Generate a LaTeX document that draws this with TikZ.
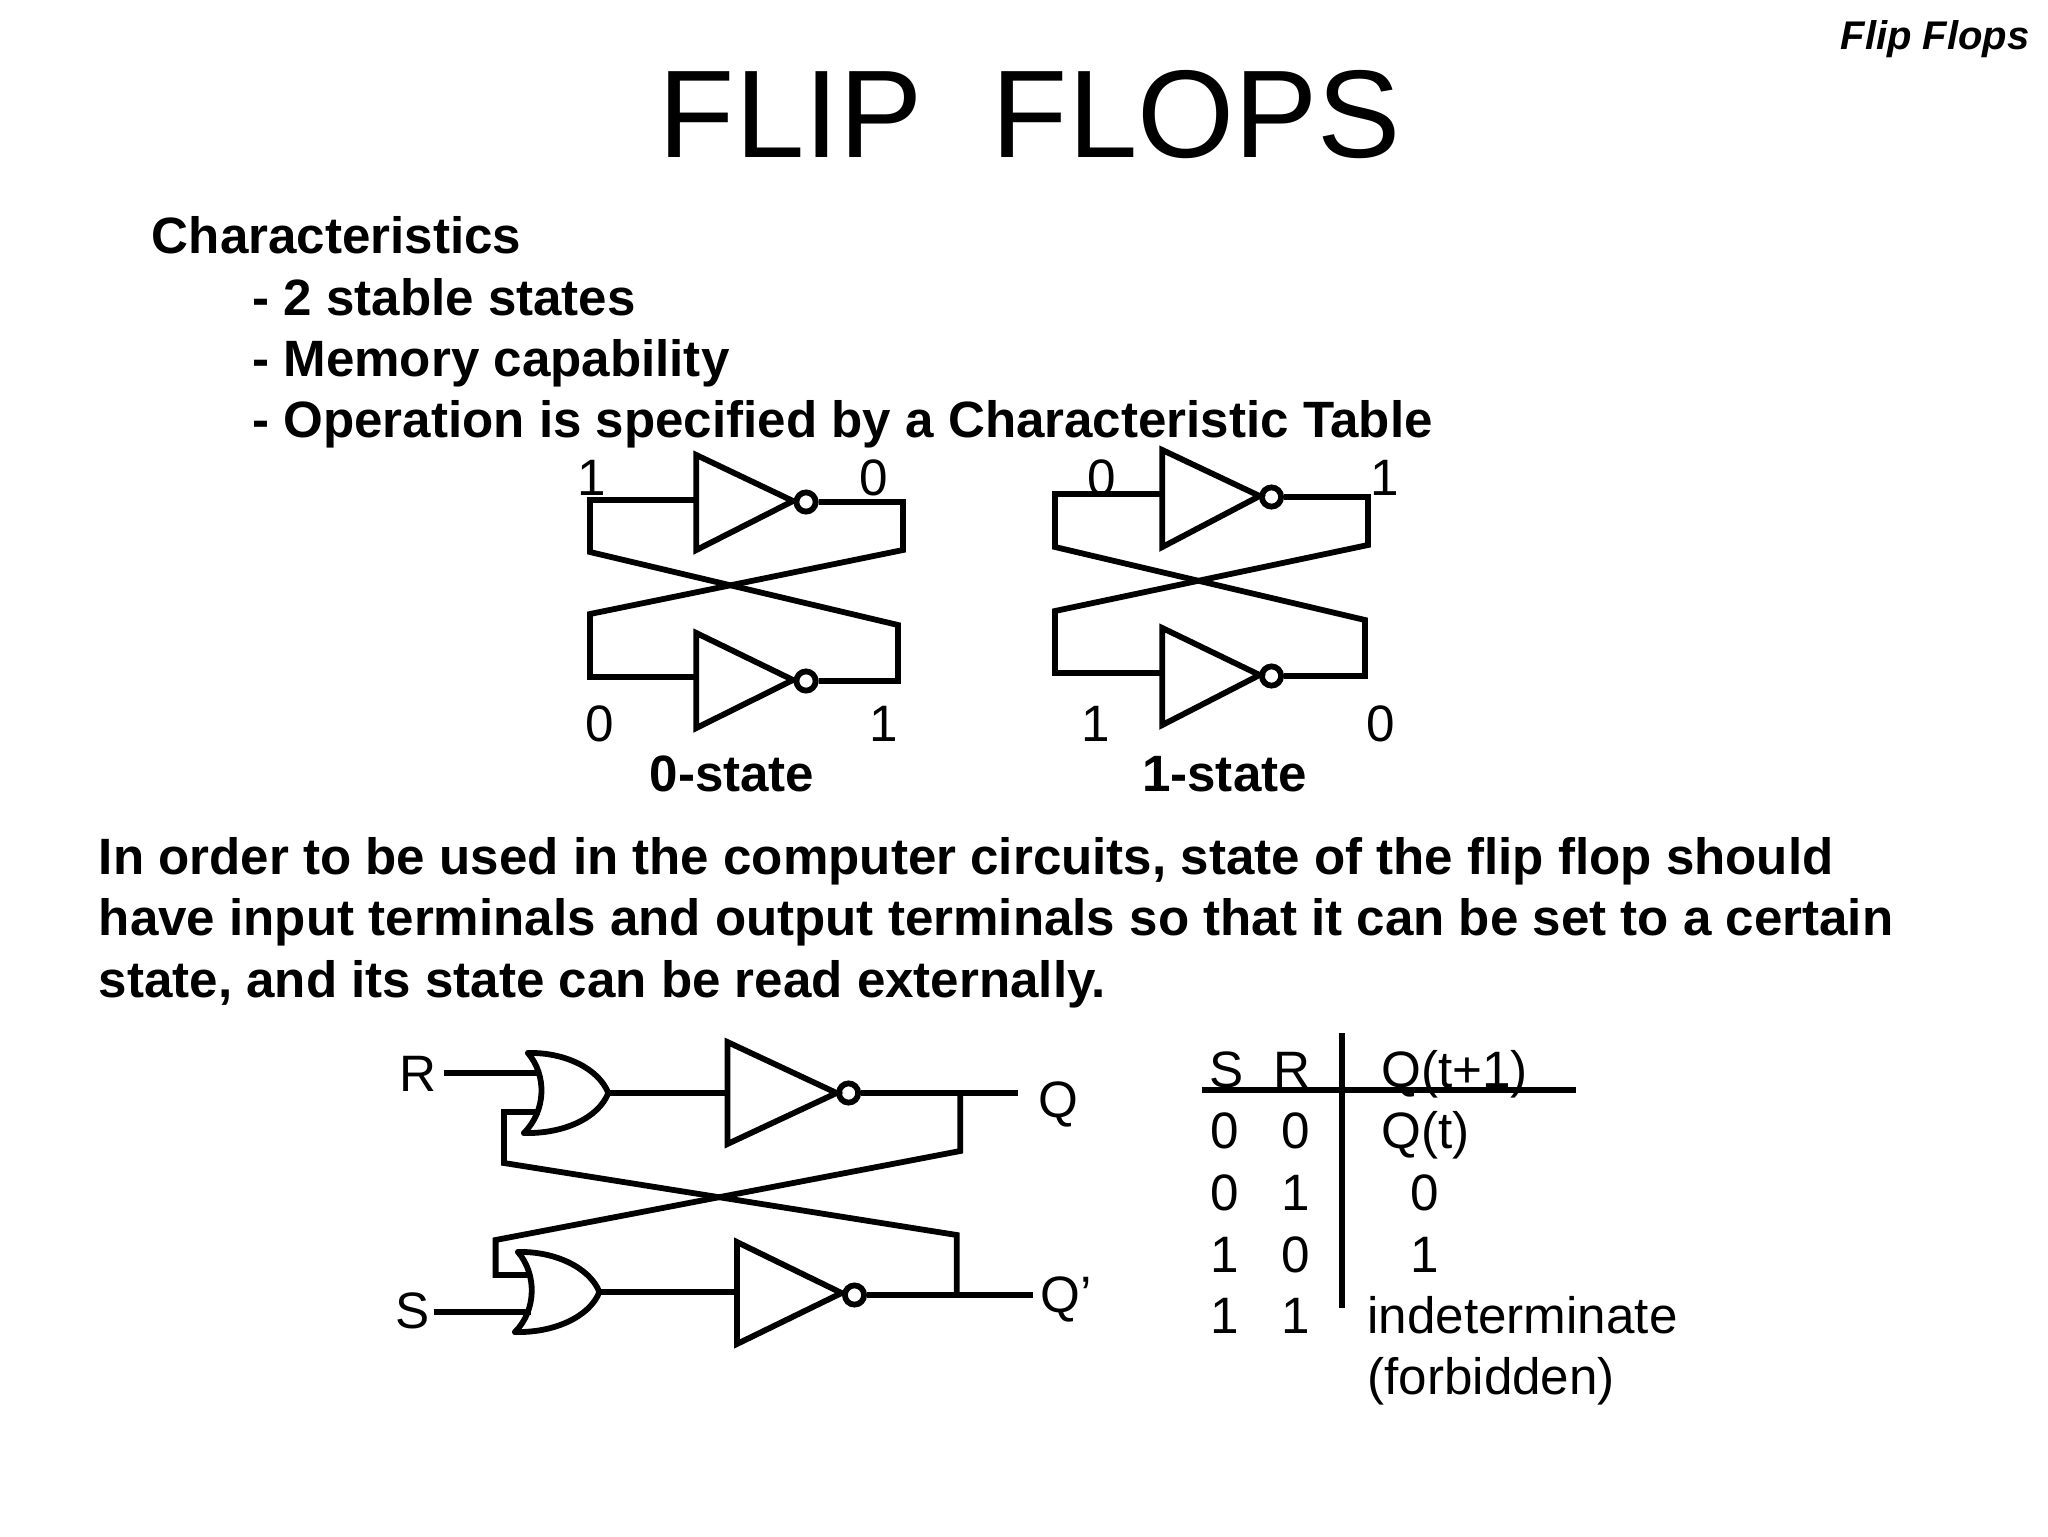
\documentclass[tikz,border=0pt]{standalone}
\usepackage{fontspec}
\setmainfont{Liberation Sans}
\tikzset{
  wire/.style={line width=2.9pt, line join=miter},
  bubble/.style={circle, draw, line width=2.9pt, inner sep=0pt, minimum size=9.6pt},
  body/.style={inner sep=0pt, font=\fontsize{25.55}{30}\selectfont\bfseries},
  lab/.style={inner sep=0pt, anchor=base, font=\fontsize{25.6}{30}\selectfont},
  labl/.style={lab, anchor=base west}
}
\begin{document}
\begin{tikzpicture}[x=0.5pt, y=-0.5pt]
\useasboundingbox (0,0) rectangle (2048,1536);
% headings
\node[inner sep=0pt, anchor=base, font=\fontsize{62.4}{70}\selectfont] (title) at (1030,157) {FLIP\ \ FLOPS};
\node[inner sep=0pt, anchor=base east, font=\fontsize{20}{24}\selectfont\bfseries\itshape] (corner) at (2030,50) {Flip Flops};
\node[body, anchor=base west] (chars) at (151.5,253) {Characteristics};
\node[body, anchor=base west] (chara) at (252,315) {- 2 stable states};
\node[body, anchor=base west] (charb) at (252,376) {- Memory capability};
\node[body, anchor=base west] (charc) at (252,437.5) {- Operation is specified by a Characteristic Table};
\node[body, anchor=base west] (para) at (98.5,874) {In order to be used in the computer circuits, state of the flip flop should};
\node[body, anchor=base west] (parb) at (98.5,935.5) {have input terminals and output terminals so that it can be set to a certain};
\node[body, anchor=base west] (parc) at (98.5,997) {state, and its state can be read externally.};

% 0-state
\draw[wire] (696.3,455) coordinate (at) -- (696.3,550) -- (793,501) -- cycle;
\draw[wire] (696.3,633) coordinate (bt) -- (696.3,728) -- (793,680) -- cycle;
\node[bubble] (ab) at (806,502) {};
\node[bubble] (bb) at (806,681) {};
\coordinate (ai) at (696.3,500);
\coordinate (bi) at (696.3,677);
\coordinate (c1) at (590,500);
\coordinate (c2) at (590,552);
\coordinate (c3) at (898,625);
\coordinate (c4) at (898,681);
\coordinate (c5) at (903,502);
\coordinate (c6) at (903,550);
\coordinate (c7) at (590,614);
\coordinate (c8) at (590,677);
\draw[wire] (ai) -- (c1) -- (c2) -- (c3) -- (c4) -- (bb);
\draw[wire] (ab) -- (c5) -- (c6) -- (c7) -- (c8) -- (bi);
\node[lab] (l1) at (591.6,495) {1};
\node[lab] (l2) at (873.5,495) {0};
\node[lab] (l3) at (599.5,741) {0};
\node[lab] (l4) at (883.4,741) {1};
\node[body, anchor=base] (zero) at (732,791) {0-state};

% 1-state
\draw[wire] (1162.3,450) coordinate (ct) -- (1162.3,547) -- (1259.6,496) -- cycle;
\draw[wire] (1162.3,628) coordinate (dt) -- (1162.3,725) -- (1259.6,675) -- cycle;
\node[bubble] (cb) at (1271.5,497) {};
\node[bubble] (db) at (1271.5,676) {};
\coordinate (ci) at (1162.3,494);
\coordinate (di) at (1162.3,673);
\coordinate (e1) at (1055,494);
\coordinate (e2) at (1055,547);
\coordinate (e3) at (1365,620);
\coordinate (e4) at (1365,676);
\coordinate (e5) at (1368,497);
\coordinate (e6) at (1368,545);
\coordinate (e7) at (1055,611);
\coordinate (e8) at (1055,673);
\draw[wire] (ci) -- (e1) -- (e2) -- (e3) -- (e4) -- (db);
\draw[wire] (cb) -- (e5) -- (e6) -- (e7) -- (e8) -- (di);
\node[lab] (l5) at (1101.8,495) {0};
\node[lab] (l6) at (1384.6,495) {1};
\node[lab] (l7) at (1095.8,741) {1};
\node[lab] (l8) at (1380.6,741) {0};
\node[body, anchor=base] (one) at (1224.5,791) {1-state};

% latch
\draw[wire, line cap=round] (528,1053) .. controls (546.6,1075) and (546.6,1110) .. (524,1133);
\draw[wire, line cap=round] (528,1053) .. controls (563.7,1052) and (598.4,1068) .. (608.3,1093) coordinate (ro) .. controls (598.4,1118) and (563.7,1134) .. (524,1133);
\draw[wire, line cap=round] (518,1252) .. controls (536.8,1274) and (536.8,1310) .. (515,1332);
\draw[wire, line cap=round] (518,1252) .. controls (553.7,1251) and (589.5,1267) .. (599.4,1292) coordinate (so) .. controls (589.5,1317) and (553.7,1333) .. (515,1332);
\draw[wire] (727.4,1042) -- (727.4,1144) -- (836.6,1093) -- cycle;
\draw[wire] (736.9,1242) -- (736.9,1344) -- (841.6,1293) -- cycle;
\node[bubble] (rb) at (848.6,1093) {};
\node[bubble] (sb) at (854.5,1295) {};
\node[lab] (r) at (417.7,1091) {R};
\node[lab] (s) at (413,1328) {S};
\node[lab] (q) at (1058,1117) {Q};
\node[lab] (qq) at (1066,1312) {Q’};
\coordinate (ra) at (443.5,1073);
\coordinate (rb1) at (539.8,1073);
\coordinate (sa) at (433.6,1312);
\coordinate (sb1) at (531,1312);
\coordinate (ri) at (727.4,1093);
\coordinate (si) at (736.9,1292);
\coordinate (qe) at (1018.3,1093);
\coordinate (qj) at (960.2,1093);
\coordinate (qf) at (960.2,1151);
\coordinate (qg) at (495.6,1240);
\coordinate (qh) at (495.6,1275);
\coordinate (qk) at (529,1275);
\coordinate (pa) at (539.8,1112);
\coordinate (pb) at (504,1112);
\coordinate (pc) at (504,1163);
\coordinate (pd) at (956.8,1235);
\coordinate (pe) at (956.8,1295);
\coordinate (pf) at (1033.2,1295);
\draw[wire] (ra) -- (rb1);
\draw[wire] (sa) -- (sb1);
\draw[wire] (ro) -- (ri);
\draw[wire] (so) -- (si);
\draw[wire] (rb) -- (qe);
\draw[wire] (sb) -- (pf);
\draw[wire] (qj) -- (qf) -- (qg) -- (qh) -- (qk);
\draw[wire] (pa) -- (pb) -- (pc) -- (pd) -- (pe);

% table
\coordinate (va) at (1342,1033);
\coordinate (vb) at (1342,1308);
\coordinate (ha) at (1202,1090);
\coordinate (hb) at (1576,1090);
\draw[wire] (va) -- (vb);
\draw[wire] (ha) -- (hb);
\node[lab] (hs) at (1227,1087) {S};
\node[lab] (hr) at (1292,1087) {R};
\node[labl] (hq) at (1381,1087) {Q(t+1)};
\node[lab] (s0) at (1225,1148) {0};
\node[lab] (r0) at (1296,1148) {0};
\node[labl] (q0) at (1381,1148) {Q(t)};
\node[lab] (s1) at (1225,1210) {0};
\node[lab] (r1) at (1296,1210) {1};
\node[lab] (q1) at (1425,1210) {0};
\node[lab] (s2) at (1225,1272) {1};
\node[lab] (r2) at (1296,1272) {0};
\node[lab] (q2) at (1425,1272) {1};
\node[lab] (s3) at (1225,1333) {1};
\node[lab] (r3) at (1296,1333) {1};
\node[labl] (q3) at (1367,1333) {indeterminate};
\node[labl] (q4) at (1367,1394) {(forbidden)};
\end{tikzpicture}
\end{document}
